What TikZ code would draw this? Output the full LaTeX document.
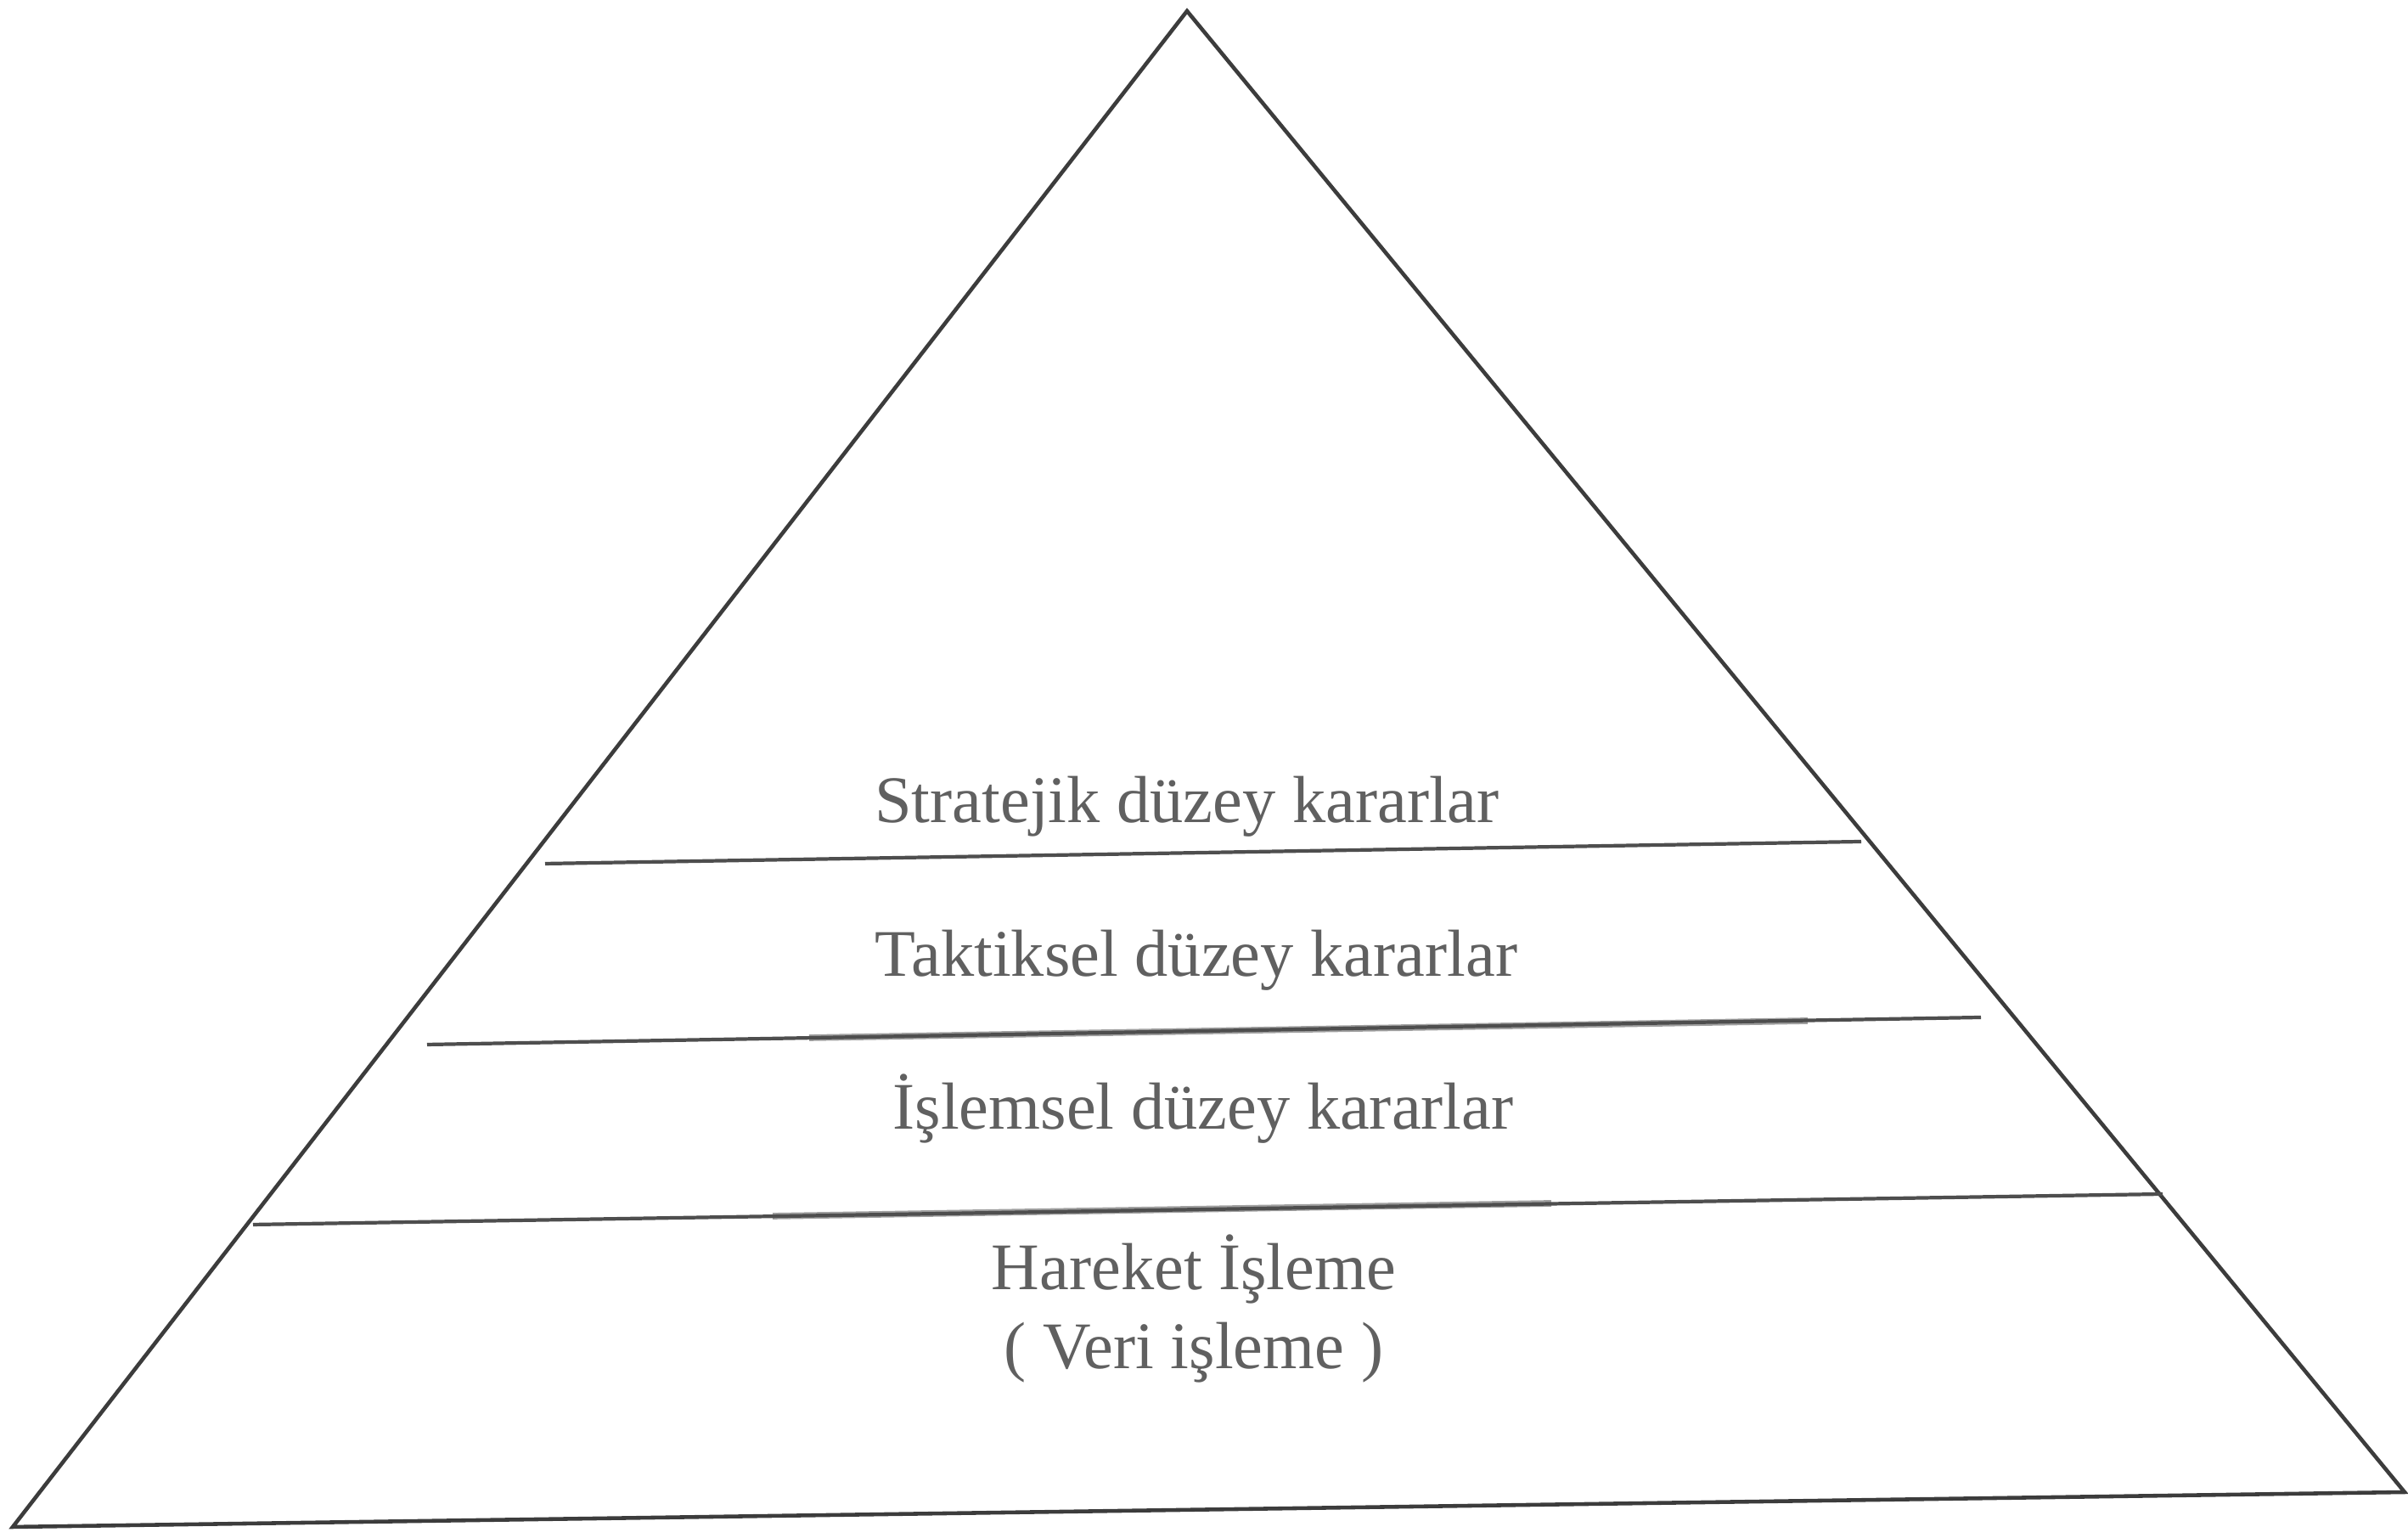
\documentclass[tikz,border=0pt]{standalone}
\usepackage{fontspec}
\setmainfont{Liberation Serif}
\definecolor{kenar}{HTML}{3C3C3C}
\definecolor{cizgi}{HTML}{4E4E4E}
\definecolor{yazi}{HTML}{606060}
\begin{document}
\begin{tikzpicture}
  % Define frame, edge and label styles
  \tikzstyle{piramitkenar} = [draw=kenar, line width=1.3pt, line join=miter]
  \tikzstyle{duzeycizgi} = [draw=cizgi, line width=1.2pt]
  \tikzstyle{golge} = [draw=gray!75, line width=2.2pt]
  \tikzstyle{duzeyetiket} = [text=yazi, font=\fontsize{22.3}{26.5}\selectfont,
  inner sep=0pt, align=center]

  \useasboundingbox (0,0) rectangle (28.36,18.11);

  \coordinate (tepe) at (13.98,17.98);
  \coordinate (solalt) at (0.15,0.13);
  \coordinate (sagalt) at (28.32,0.54);
  \draw [piramitkenar] (tepe) -- (solalt) -- (sagalt) -- cycle;

  % level lines
  \coordinate (s1) at (6.42,7.94);  \coordinate (e1) at (21.92,8.20);
  \coordinate (s2) at (5.03,5.81);  \coordinate (e2) at (23.33,6.13);
  \coordinate (s3) at (2.98,3.69);  \coordinate (e3) at (25.47,4.05);
  \coordinate (g2a) at (9.53,5.89); \coordinate (g2b) at (21.29,6.09);
  \coordinate (g3a) at (9.10,3.79); \coordinate (g3b) at (18.27,3.94);
  \draw [golge] (g2a) -- (g2b);
  \draw [golge] (g3a) -- (g3b);
  \draw [duzeycizgi] (s1) -- (e1);
  \draw [duzeycizgi] (s2) -- (e2);
  \draw [duzeycizgi] (s3) -- (e3);

  \node [duzeyetiket] (stratejik) at (13.98,8.61) {Stratejik düzey kararlar};
  \node [duzeyetiket] (taktiksel) at (14.09,6.80) {Taktiksel düzey kararlar};
  \node [duzeyetiket] (islemsel) at (14.17,5.05) {İşlemsel düzey kararlar};
  \node [duzeyetiket] (hareket) at (14.06,2.70) {Hareket İşleme\\( Veri işleme )};
\end{tikzpicture}
\end{document}
